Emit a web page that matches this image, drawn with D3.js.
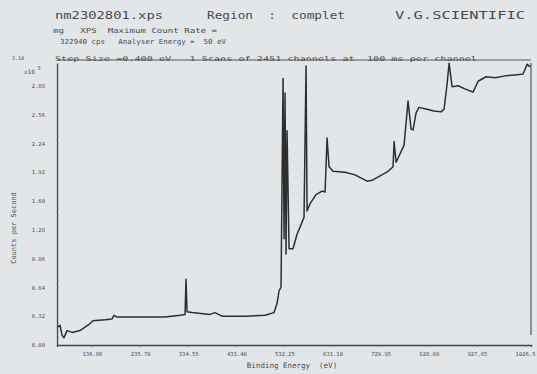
<!DOCTYPE html>
<html><head><meta charset="utf-8">
<script src="https://cdn.jsdelivr.net/npm/d3@7"></script>
<style>
html,body{margin:0;padding:0;background:#e3e6e9;}
svg{display:block;}
text{font-family:"DejaVu Sans Mono","Liberation Mono",monospace;fill:#4a4a4a;white-space:pre;}
</style></head>
<body>
<svg id="chart" width="537" height="374"></svg>
<script>
// ---- data (counts in units of 1e5 counts per second) ----
const bindingEnergy = [67.0,71.1,75.2,79.3,85.5,95.8,112.2,128.6,138.9,163.6,178.0,182.1,188.2,235.5,286.9,317.7,328.0,330.0,332.1,342.4,379.3,389.6,404.0,451.3,492.4,510.9,517.0,521.1,525.2,529.4,531.4,533.5,535.5,537.6,541.7,549.9,558.1,564.3,572.5,576.6,578.7,584.9,597.2,609.5,615.7,619.8,623.9,632.1,656.8,677.3,702.0,712.3,728.7,745.2,755.4,757.5,761.6,767.7,778.0,786.2,792.4,796.5,802.7,808.8,825.3,839.7,854.0,860.2,866.4,870.5,876.7,889.0,905.4,919.8,930.1,946.5,965.0,985.6,1006.1,1022.6,1030.8,1036.9];
const counts = [0.20,0.22,0.11,0.08,0.16,0.14,0.16,0.22,0.27,0.28,0.29,0.33,0.31,0.31,0.31,0.33,0.34,0.73,0.37,0.36,0.34,0.36,0.32,0.32,0.33,0.36,0.46,0.60,0.64,2.96,1.18,2.80,1.01,2.38,1.07,1.07,1.23,1.31,1.42,3.10,1.49,1.57,1.67,1.71,1.70,2.30,1.98,1.93,1.92,1.89,1.82,1.83,1.88,1.93,1.98,2.26,2.03,2.10,2.22,2.71,2.40,2.39,2.58,2.64,2.62,2.60,2.59,2.62,2.90,3.13,2.87,2.88,2.84,2.81,2.93,2.98,2.97,2.99,3.00,3.01,3.12,3.09];
const yTickValues = [0.00,0.32,0.64,0.96,1.28,1.60,1.92,2.24,2.56,2.88];
const xTickValues = [136.86,235.70,334.55,433.40,532.25,631.10,729.95,828.80,927.65,1026.5];
const headerTitle = ["nm2302801.xps", "Region  :  complet", "V.G.SCIENTIFIC"];
const infoLines = ["mg   XPS  Maximum Count Rate =", "322940 cps   Analyser Energy =  50 eV", "Step Size =0.400 eV   1 Scans of 2451 channels at  100 ms per channel"];
const xTitle = "Binding Energy  (eV)";
const yTitle = "Counts per Second";

const svg = d3.select("#chart");
const m = {left:57, right:531, top:63, bottom:345};
const x = d3.scaleLinear().domain([64.95,1038.8]).range([m.left,m.right]);
const y = d3.scaleLinear().domain([0,3.133]).range([m.bottom,m.top]);

function txt(s, px, py, size, len){
  const t = svg.append("text").attr("x",px).attr("y",py).attr("font-size",size).text(s);
  if(len) t.attr("textLength",len).attr("lengthAdjust","spacingAndGlyphs");
  return t;
}
// header
txt(headerTitle[0],55,19,11,108);
txt(headerTitle[1],207,19,11,138);
txt(headerTitle[2],395,19,11,130);
txt(infoLines[0],53,33,7,164);
txt(infoLines[1],60,44,7,166);
txt(infoLines[2],55,61,6.5,422).attr("fill","#5a5a5a");
txt("3.14",12,60,5);

// frame
const fr = svg.append("g").attr("stroke","#555").attr("fill","none");
fr.append("line").attr("x1",m.left).attr("x2",m.right).attr("y1",m.top-3).attr("y2",m.top-3).attr("stroke-width",1);
fr.append("line").attr("x1",m.right).attr("x2",m.right).attr("y1",m.top).attr("y2",m.bottom-10).attr("stroke-width",1.2);

// axes
const yAxis = d3.axisLeft(y).tickValues(yTickValues).tickSize(0).tickPadding(12).tickFormat(d3.format(".2f"));
const gy = svg.append("g").attr("transform",`translate(${m.left},0)`).call(yAxis);
gy.select(".domain").attr("stroke","#444").attr("stroke-width",1.3);
gy.selectAll("text").attr("font-size",5.5).attr("font-family","DejaVu Sans Mono").attr("fill","#555");
// minor inside ticks
svg.append("g").selectAll("line").data(d3.range(0,3.1,0.08)).join("line")
  .attr("x1",m.left).attr("x2",m.left+2).attr("y1",d=>y(d)).attr("y2",d=>y(d)).attr("stroke","#777").attr("stroke-width",0.6);

const xAxis = d3.axisBottom(x).tickValues(xTickValues).tickSize(2).tickPadding(5).tickFormat(d3.format(".2f"));
const gx = svg.append("g").attr("transform",`translate(0,${m.bottom})`).call(xAxis);
gx.select(".domain").attr("stroke","#444").attr("stroke-width",1.3);
gx.selectAll(".tick line").attr("stroke","#666");
gx.selectAll("text").attr("font-size",5.5).attr("font-family","DejaVu Sans Mono").attr("fill","#555")
  .text((d,i)=> i===xTickValues.length-1 ? "1026.5" : d3.format(".2f")(d));

// x10^5 label
const lab = svg.append("text").attr("x",24).attr("y",74).attr("font-size",6);
lab.append("tspan").text("x10");
lab.append("tspan").attr("dy",-4).attr("font-size",5).text(" 5");

// titles
txt(xTitle,292,368,7.5).attr("text-anchor","middle");
svg.append("text").attr("transform","translate(16,228) rotate(-90)").attr("text-anchor","middle").attr("font-size",7).text(yTitle);

// spectrum line
const pts = bindingEnergy.map((e,i)=>[e,counts[i]]);
svg.append("path").datum(pts)
  .attr("fill","none").attr("stroke","#2e2e2e").attr("stroke-width",1.5).attr("stroke-linejoin","round")
  .attr("d", d3.line().x(d=>x(d[0])).y(d=>y(d[1])));
</script>
</body></html>
